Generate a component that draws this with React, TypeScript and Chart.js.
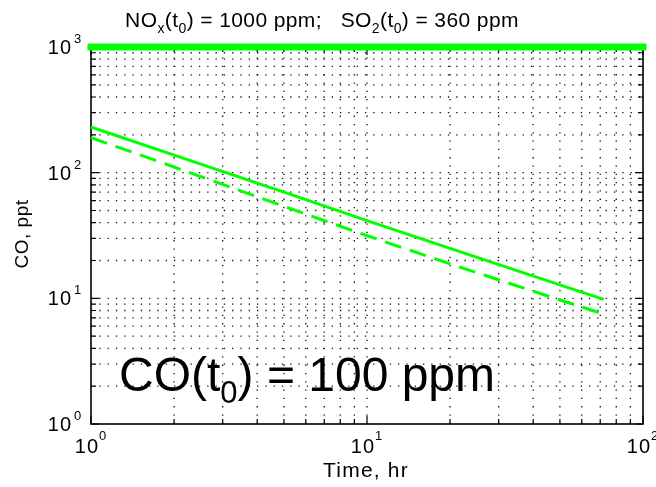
import React, { useEffect, useRef } from "react";
import { Chart, registerables } from "chart.js";

Chart.register(...registerables);

// ---- data ----
const timeHr = [1, 2, 5, 10, 20, 50, 72];
const coSolid = [231, 138, 70, 41.5, 25, 12.8, 9.8];
const coDashed = [190, 111, 54, 31.5, 18.8, 9.7, 7.5];
const topLineTime = [1, 100];
const topLineCO = [1000, 1000];

const xMin = 1;
const xMax = 100;
const yMin = 1;
const yMax = 1000;

const xMajor = [1, 10, 100];
const xMajorExp = ["0", "1", "2"];
const xMinor = [2, 3, 4, 5, 6, 7, 8, 9, 20, 30, 40, 50, 60, 70, 80, 90];
const yMajor = [1, 10, 100, 1000];
const yMajorExp = ["0", "1", "2", "3"];
const yMinor = [2, 3, 4, 5, 6, 7, 8, 9, 20, 30, 40, 50, 60, 70, 80, 90, 200, 300, 400, 500, 600, 700, 800, 900];

const xTitle = "Time, hr";
const yTitle = "CO, ppt";
// title parts: [text, kind] kind: n = normal, s = subscript
const titleParts: [string, string][] = [
  ["NO", "n"], ["x", "s"], ["(t", "n"], ["0", "s"], [") = 1000 ppm;   SO", "n"], ["2", "s"], ["(t", "n"], ["0", "s"], [") = 360 ppm", "n"],
];
const noteParts: [string, string][] = [["CO(t", "n"], ["0", "s"], [") = 100 ppm", "n"]];

const GREEN = "#00ff00";
const FONT = '"Liberation Sans", Arial, Helvetica, sans-serif';

type Part = { t: string; size: number; dy: number };

function drawRich(ctx: CanvasRenderingContext2D, parts: Part[], x: number, y: number, align: string, ls = 0) {
  const c: any = ctx;
  c.letterSpacing = `${ls}px`;
  const widths: number[] = [];
  let total = 0;
  for (const p of parts) {
    ctx.font = `${p.size}px ${FONT}`;
    const w = ctx.measureText(p.t).width;
    widths.push(w);
    total += w;
  }
  let cx = align === "center" ? x - total / 2 : align === "right" ? x - total : x;
  ctx.textAlign = "left";
  ctx.textBaseline = "alphabetic";
  parts.forEach((p, i) => {
    ctx.font = `${p.size}px ${FONT}`;
    ctx.fillText(p.t, cx, y + p.dy);
    cx += widths[i];
  });
  c.letterSpacing = "0px";
}

const matlabPlugin = {
  id: "matlabAxes",
  beforeDatasetsDraw(chart: any) {
    const ctx: CanvasRenderingContext2D = chart.ctx;
    const { left, right, top, bottom } = chart.chartArea;
    const xs = chart.scales.x;
    const ys = chart.scales.y;
    ctx.save();
    // dotted grid
    ctx.strokeStyle = "#111";
    ctx.lineWidth = 1.3;
    ctx.setLineDash([1.3, 7]);
    for (const v of [...xMajor, ...xMinor]) {
      if (v <= xMin || v >= xMax) continue;
      const px = xs.getPixelForValue(v);
      ctx.beginPath();
      ctx.moveTo(px, bottom);
      ctx.lineTo(px, top);
      ctx.stroke();
    }
    for (const v of [...yMajor, ...yMinor]) {
      if (v <= yMin || v >= yMax) continue;
      const py = ys.getPixelForValue(v);
      ctx.beginPath();
      ctx.moveTo(left, py);
      ctx.lineTo(right, py);
      ctx.stroke();
    }
    ctx.setLineDash([]);
    // frame
    ctx.strokeStyle = "#000";
    ctx.lineWidth = 1.6;
    ctx.strokeRect(left, top, right - left, bottom - top);
    // inward ticks
    ctx.lineWidth = 1.2;
    const xTicks = [...xMajor.map((v) => [v, 8]), ...xMinor.map((v) => [v, 5])];
    for (const [v, len] of xTicks) {
      const px = xs.getPixelForValue(v);
      ctx.beginPath();
      ctx.moveTo(px, bottom);
      ctx.lineTo(px, bottom - len);
      ctx.moveTo(px, top);
      ctx.lineTo(px, top + len);
      ctx.stroke();
    }
    const yTicks = [...yMajor.map((v) => [v, 8]), ...yMinor.map((v) => [v, 5])];
    for (const [v, len] of yTicks) {
      const py = ys.getPixelForValue(v);
      ctx.beginPath();
      ctx.moveTo(left, py);
      ctx.lineTo(left + len, py);
      ctx.moveTo(right, py);
      ctx.lineTo(right - len, py);
      ctx.stroke();
    }
    ctx.restore();
  },
  afterDraw(chart: any) {
    const ctx: CanvasRenderingContext2D = chart.ctx;
    const { left, right, top, bottom } = chart.chartArea;
    const xs = chart.scales.x;
    const ys = chart.scales.y;
    ctx.save();
    ctx.fillStyle = "#000";
    // y tick labels
    yMajor.forEach((v, i) => {
      const py = ys.getPixelForValue(v);
      drawRich(ctx, [{ t: "10", size: 20, dy: 0 }], left - 19, py + 7, "right", 1);
      drawRich(ctx, [{ t: yMajorExp[i], size: 13, dy: 0 }], left - 17, py - 4, "left");
    });
    // x tick labels
    xMajor.forEach((v, i) => {
      const px = xs.getPixelForValue(v);
      drawRich(ctx, [{ t: "10", size: 20, dy: 0 }, { t: xMajorExp[i], size: 13, dy: -13 }], px, bottom + 29, "center", 1);
    });
    // axis titles
    drawRich(ctx, [{ t: xTitle, size: 21, dy: 0 }], 366, 477, "center", 1.2);
    ctx.save();
    ctx.translate(28, 234);
    ctx.rotate(-Math.PI / 2);
    drawRich(ctx, [{ t: yTitle, size: 19, dy: 0 }], 0, 0, "center", 0.5);
    ctx.restore();
    // title
    drawRich(
      ctx,
      titleParts.map(([t, k]) => (k === "s" ? { t, size: 14, dy: 6 } : { t, size: 21, dy: 0 })),
      322,
      27,
      "center",
      0.4
    );
    // annotation
    drawRich(
      ctx,
      noteParts.map(([t, k]) => (k === "s" ? { t, size: 31, dy: 12 } : { t, size: 48, dy: 0 })),
      119,
      391,
      "left"
    );
    ctx.restore();
  },
};

export default function App() {
  const ref = useRef<HTMLCanvasElement | null>(null);
  useEffect(() => {
    if (!ref.current) return;
    const chart = new Chart(ref.current, {
      type: "line",
      data: {
        datasets: [
          {
            label: "top",
            data: topLineTime.map((t, i) => ({ x: t, y: topLineCO[i] })),
            borderColor: GREEN,
            borderWidth: 7,
            borderCapStyle: "square",
            pointRadius: 0,
            clip: false,
          } as any,
          {
            label: "CO solid",
            data: timeHr.map((t, i) => ({ x: t, y: coSolid[i] })),
            borderColor: GREEN,
            borderWidth: 3,
            pointRadius: 0,
            tension: 0,
            clip: false,
          } as any,
          {
            label: "CO dashed",
            data: timeHr.map((t, i) => ({ x: t, y: coDashed[i] })),
            borderColor: GREEN,
            borderWidth: 3,
            borderDash: [17, 9],
            pointRadius: 0,
            tension: 0,
            clip: false,
          } as any,
        ],
      },
      options: {
        responsive: false,
        animation: false,
        devicePixelRatio: 1,
        layout: { padding: { left: 91, right: 13, top: 47, bottom: 63 } },
        plugins: { legend: { display: false }, tooltip: { enabled: false }, title: { display: false } },
        scales: {
          x: {
            type: "logarithmic",
            min: xMin,
            max: xMax,
            ticks: { display: false },
            grid: { display: false, drawTicks: false },
            border: { display: false },
          },
          y: {
            type: "logarithmic",
            min: yMin,
            max: yMax,
            ticks: { display: false },
            grid: { display: false, drawTicks: false },
            border: { display: false },
          },
        },
      },
      plugins: [matlabPlugin],
    } as any);
    return () => chart.destroy();
  }, []);
  return (
    <div style={{ position: "fixed", left: 0, top: 0, width: 656, height: 487, background: "#fff" }}>
      <canvas ref={ref} width={656} height={487} style={{ display: "block" }} />
    </div>
  );
}
